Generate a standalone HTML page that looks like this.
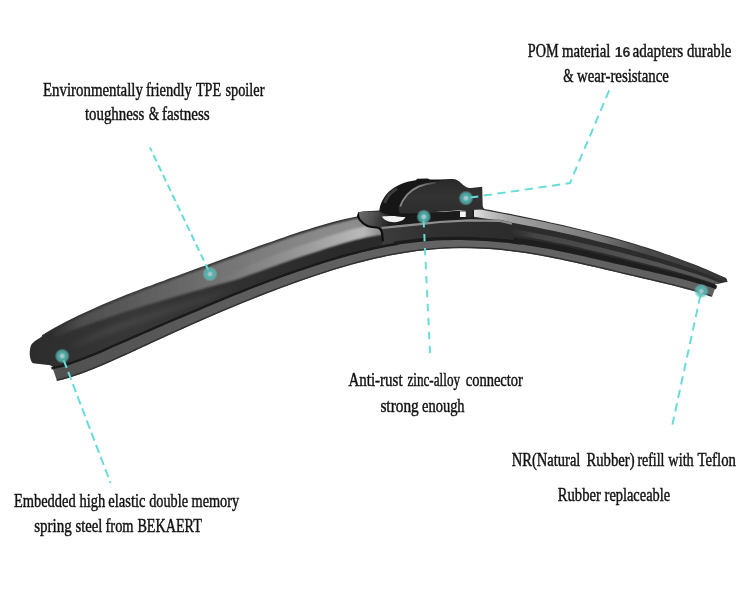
<!DOCTYPE html>
<html lang="en">
<head>
<meta charset="utf-8">
<title>Wiper blade features</title>
<style>
html,body{margin:0;padding:0;background:#fff;}
body{width:750px;height:593px;overflow:hidden;position:relative;}
svg{display:block;position:absolute;left:0;top:0;}
text{font-family:"Liberation Serif",serif;fill:#111;stroke:#111;stroke-width:0.45px;}
.num{font-family:"Liberation Sans",sans-serif;font-weight:bold;stroke-width:0;fill:#2a2a2a;}
</style>
</head>
<body>
<svg width="750" height="593" viewBox="0 0 750 593">
<defs>
<linearGradient id="gBody" gradientUnits="userSpaceOnUse" x1="30" y1="0" x2="730" y2="0">
<stop offset="0" stop-color="#2c2c2c"/><stop offset="0.15" stop-color="#383838"/><stop offset="0.3" stop-color="#303030"/><stop offset="0.45" stop-color="#2a2a2a"/><stop offset="0.7" stop-color="#2c2c2c"/><stop offset="1" stop-color="#2c2c2c"/>
</linearGradient>
<linearGradient id="gHl" gradientUnits="userSpaceOnUse" x1="50" y1="0" x2="380" y2="0">
<stop offset="0" stop-color="#444" stop-opacity="0"/><stop offset="0.1" stop-color="#4e4e4e"/><stop offset="0.38" stop-color="#666"/><stop offset="0.55" stop-color="#767676"/><stop offset="0.75" stop-color="#868686"/><stop offset="0.92" stop-color="#8e8e8e"/><stop offset="1" stop-color="#7a7a7a"/>
</linearGradient>
<linearGradient id="gHr" gradientUnits="userSpaceOnUse" x1="215" y1="0" x2="380" y2="0">
<stop offset="0" stop-color="#8a8a8a" stop-opacity="0"/><stop offset="0.3" stop-color="#909090" stop-opacity="0.5"/><stop offset="0.7" stop-color="#acacac" stop-opacity="0.9"/><stop offset="0.9" stop-color="#bababa"/><stop offset="1" stop-color="#909090"/>
</linearGradient>
<linearGradient id="gLb" gradientUnits="userSpaceOnUse" x1="60" y1="0" x2="240" y2="0">
<stop offset="0" stop-color="#4a4a4a" stop-opacity="0"/><stop offset="0.3" stop-color="#4a4a4a" stop-opacity="0.8"/><stop offset="0.8" stop-color="#444" stop-opacity="0.6"/><stop offset="1" stop-color="#444" stop-opacity="0"/>
</linearGradient>
<linearGradient id="gRs" gradientUnits="userSpaceOnUse" x1="474" y1="0" x2="726" y2="0">
<stop offset="0" stop-color="#e2e2e2"/><stop offset="0.05" stop-color="#c6c6c6"/><stop offset="0.14" stop-color="#a4a4a4"/><stop offset="0.3" stop-color="#8e8e8e"/><stop offset="0.5" stop-color="#777"/><stop offset="0.66" stop-color="#4c4c4c"/><stop offset="1" stop-color="#333"/>
</linearGradient>
<linearGradient id="gRm" gradientUnits="userSpaceOnUse" x1="508" y1="0" x2="722" y2="0">
<stop offset="0" stop-color="#3a3a3a" stop-opacity="0"/><stop offset="0.12" stop-color="#444"/><stop offset="0.6" stop-color="#525252"/><stop offset="1" stop-color="#5a5a5a"/>
</linearGradient>
<linearGradient id="gStrip" gradientUnits="userSpaceOnUse" x1="57" y1="0" x2="712" y2="0">
<stop offset="0" stop-color="#505050"/><stop offset="0.25" stop-color="#5c5c5c"/><stop offset="0.6" stop-color="#646464"/><stop offset="1" stop-color="#606060"/>
</linearGradient>
<linearGradient id="gCapTop" gradientUnits="userSpaceOnUse" x1="358" y1="212" x2="400" y2="226">
<stop offset="0" stop-color="#6c6c6c"/><stop offset="0.35" stop-color="#505050"/><stop offset="0.75" stop-color="#222"/><stop offset="1" stop-color="#1a1a1a"/>
</linearGradient>
<linearGradient id="gCapFront" gradientUnits="userSpaceOnUse" x1="382" y1="0" x2="512" y2="0">
<stop offset="0" stop-color="#3c3c3c"/><stop offset="0.4" stop-color="#303030"/><stop offset="1" stop-color="#2c2c2c"/>
</linearGradient>
<linearGradient id="gLoz" gradientUnits="userSpaceOnUse" x1="0" y1="180" x2="0" y2="214">
<stop offset="0" stop-color="#2a2a2a"/><stop offset="0.5" stop-color="#333"/><stop offset="1" stop-color="#2c2c2c"/>
</linearGradient>
<linearGradient id="gLozHl" gradientUnits="userSpaceOnUse" x1="400" y1="0" x2="436" y2="0">
<stop offset="0" stop-color="#8a8a8a"/><stop offset="0.5" stop-color="#8a8a8a"/><stop offset="1" stop-color="#444"/>
</linearGradient>
<radialGradient id="gDot"><stop offset="0" stop-color="#b4c0c8"/><stop offset="0.22" stop-color="#a4c4c8"/><stop offset="0.4" stop-color="#4cbcb6" stop-opacity="0.9"/><stop offset="0.7" stop-color="#58c4be" stop-opacity="0.7"/><stop offset="1" stop-color="#7fd4d0" stop-opacity="0"/></radialGradient>
<filter id="b0" x="-10%" y="-30%" width="120%" height="160%"><feGaussianBlur stdDeviation="0.45"/></filter>
<filter id="b1" x="-5%" y="-20%" width="110%" height="140%"><feGaussianBlur stdDeviation="0.7"/></filter>
<filter id="b2" x="-5%" y="-20%" width="110%" height="140%"><feGaussianBlur stdDeviation="1.3"/></filter>
<filter id="b3" x="-5%" y="-20%" width="110%" height="140%"><feGaussianBlur stdDeviation="2.5"/></filter>
<clipPath id="cBody"><path d="M42.0 335.2 L48.1 331.6 L54.1 328.1 L60.2 324.8 L66.2 321.6 L72.3 318.5 L78.3 315.5 L84.4 312.7 L90.5 309.9 L96.5 307.2 L102.6 304.6 L108.6 302.0 L114.7 299.5 L120.8 297.0 L126.8 294.6 L132.9 292.3 L138.9 289.9 L145.0 287.6 L151.0 285.4 L157.1 283.1 L163.2 280.9 L169.2 278.6 L175.3 276.4 L181.3 274.2 L187.4 272.0 L193.4 269.8 L199.5 267.6 L205.6 265.4 L211.6 263.2 L217.7 261.0 L223.7 258.8 L229.8 256.6 L235.8 254.4 L241.9 252.2 L248.0 250.0 L254.0 247.8 L260.1 245.6 L266.1 243.5 L272.2 241.4 L278.2 239.2 L284.3 237.2 L290.4 235.1 L296.4 233.1 L302.5 231.1 L308.5 229.2 L314.6 227.3 L320.7 225.5 L326.7 223.8 L332.8 222.1 L338.8 220.5 L344.9 219.1 L350.9 217.7 L357.0 216.4 L358.2 212.6 L362 211.6 L379 210.6 L400 212 L440 212 L470 210 L484.0 208.9 L490.1 210.1 L496.1 211.2 L502.1 212.4 L508.2 213.6 L514.2 214.8 L520.3 216.1 L526.4 217.3 L532.4 218.5 L538.5 219.8 L544.5 221.1 L550.5 222.4 L556.6 223.8 L562.6 225.1 L568.7 226.5 L574.8 227.9 L580.8 229.4 L586.9 230.8 L592.9 232.4 L599.0 233.9 L605.0 235.5 L611.0 237.1 L617.1 238.8 L623.1 240.5 L629.2 242.3 L635.2 244.1 L641.3 245.9 L647.4 247.8 L653.4 249.8 L659.5 251.8 L665.5 253.9 L671.5 256.0 L677.6 258.2 L683.6 260.4 L689.7 262.8 L695.8 265.1 L701.8 267.6 L707.9 270.1 L713.9 272.7 L720.0 275.4 L726.0 278.1 L727.7 281.8 L715.4 284.2 L715.1 288.3 L708.9 286.1 L702.7 284.2 L696.5 282.4 L690.4 280.7 L684.2 279.1 L678.1 277.6 L672.1 276.1 L666.0 274.7 L660.0 273.2 L653.9 271.9 L647.9 270.5 L641.9 269.1 L635.9 267.7 L629.9 266.3 L623.9 265.0 L617.8 263.6 L611.8 262.2 L605.8 260.8 L599.8 259.4 L593.8 258.0 L587.7 256.6 L581.7 255.3 L575.6 253.9 L569.6 252.6 L563.5 251.3 L557.5 250.1 L551.4 248.9 L545.3 247.7 L539.2 246.6 L533.1 245.6 L527.0 244.6 L520.9 243.7 L514.8 242.9 L508.7 242.2 L502.5 241.5 L496.4 241.0 L490.3 240.5 L484.1 240.1 L478.0 239.8 L471.8 239.6 L465.7 239.3 L459.5 239.2 L453.4 239.2 L447.2 239.3 L441.0 239.5 L434.8 239.8 L428.7 240.2 L422.5 240.7 L416.3 241.3 L410.1 242.0 L404.0 242.8 L397.8 243.7 L391.6 244.8 L385.5 245.9 L379.3 247.2 L373.2 248.5 L367.0 249.9 L360.9 251.4 L354.8 253.0 L348.6 254.6 L342.5 256.3 L336.4 258.0 L330.3 259.9 L324.2 261.7 L318.1 263.7 L312.0 265.6 L305.9 267.7 L299.8 269.7 L293.7 271.8 L287.7 274.0 L281.6 276.2 L275.5 278.4 L269.4 280.7 L263.4 283.0 L257.3 285.3 L251.2 287.6 L245.1 290.0 L239.1 292.4 L233.0 294.9 L227.0 297.4 L220.9 299.8 L214.8 302.4 L208.8 304.9 L202.7 307.5 L196.7 310.1 L190.6 312.6 L184.5 315.2 L178.3 317.8 L172.2 320.3 L166.1 322.9 L160.0 325.6 L154.0 328.2 L147.9 330.8 L141.8 333.5 L135.7 336.1 L129.7 338.7 L123.6 341.3 L117.6 344.0 L111.7 346.7 L105.7 349.3 L99.8 351.9 L93.9 354.4 L88.1 356.7 L82.3 359.0 L76.5 361.2 L70.8 363.1 L65.2 364.9 L59.6 366.5 L54.1 367.8 L50.3 365.2 L33 363.3 C31.8 362.6 31 361 30.4 358.5 C29.3 355 29.5 348.5 31.2 345 C33 341.8 38 339.4 42 336.3 Z"/></clipPath>
</defs>
<!-- blade body -->
<path d="M42.0 335.2 L48.1 331.6 L54.1 328.1 L60.2 324.8 L66.2 321.6 L72.3 318.5 L78.3 315.5 L84.4 312.7 L90.5 309.9 L96.5 307.2 L102.6 304.6 L108.6 302.0 L114.7 299.5 L120.8 297.0 L126.8 294.6 L132.9 292.3 L138.9 289.9 L145.0 287.6 L151.0 285.4 L157.1 283.1 L163.2 280.9 L169.2 278.6 L175.3 276.4 L181.3 274.2 L187.4 272.0 L193.4 269.8 L199.5 267.6 L205.6 265.4 L211.6 263.2 L217.7 261.0 L223.7 258.8 L229.8 256.6 L235.8 254.4 L241.9 252.2 L248.0 250.0 L254.0 247.8 L260.1 245.6 L266.1 243.5 L272.2 241.4 L278.2 239.2 L284.3 237.2 L290.4 235.1 L296.4 233.1 L302.5 231.1 L308.5 229.2 L314.6 227.3 L320.7 225.5 L326.7 223.8 L332.8 222.1 L338.8 220.5 L344.9 219.1 L350.9 217.7 L357.0 216.4 L358.2 212.6 L362 211.6 L379 210.6 L400 212 L440 212 L470 210 L484.0 208.9 L490.1 210.1 L496.1 211.2 L502.1 212.4 L508.2 213.6 L514.2 214.8 L520.3 216.1 L526.4 217.3 L532.4 218.5 L538.5 219.8 L544.5 221.1 L550.5 222.4 L556.6 223.8 L562.6 225.1 L568.7 226.5 L574.8 227.9 L580.8 229.4 L586.9 230.8 L592.9 232.4 L599.0 233.9 L605.0 235.5 L611.0 237.1 L617.1 238.8 L623.1 240.5 L629.2 242.3 L635.2 244.1 L641.3 245.9 L647.4 247.8 L653.4 249.8 L659.5 251.8 L665.5 253.9 L671.5 256.0 L677.6 258.2 L683.6 260.4 L689.7 262.8 L695.8 265.1 L701.8 267.6 L707.9 270.1 L713.9 272.7 L720.0 275.4 L726.0 278.1 L727.7 281.8 L715.4 284.2 L715.1 288.3 L708.9 286.1 L702.7 284.2 L696.5 282.4 L690.4 280.7 L684.2 279.1 L678.1 277.6 L672.1 276.1 L666.0 274.7 L660.0 273.2 L653.9 271.9 L647.9 270.5 L641.9 269.1 L635.9 267.7 L629.9 266.3 L623.9 265.0 L617.8 263.6 L611.8 262.2 L605.8 260.8 L599.8 259.4 L593.8 258.0 L587.7 256.6 L581.7 255.3 L575.6 253.9 L569.6 252.6 L563.5 251.3 L557.5 250.1 L551.4 248.9 L545.3 247.7 L539.2 246.6 L533.1 245.6 L527.0 244.6 L520.9 243.7 L514.8 242.9 L508.7 242.2 L502.5 241.5 L496.4 241.0 L490.3 240.5 L484.1 240.1 L478.0 239.8 L471.8 239.6 L465.7 239.3 L459.5 239.2 L453.4 239.2 L447.2 239.3 L441.0 239.5 L434.8 239.8 L428.7 240.2 L422.5 240.7 L416.3 241.3 L410.1 242.0 L404.0 242.8 L397.8 243.7 L391.6 244.8 L385.5 245.9 L379.3 247.2 L373.2 248.5 L367.0 249.9 L360.9 251.4 L354.8 253.0 L348.6 254.6 L342.5 256.3 L336.4 258.0 L330.3 259.9 L324.2 261.7 L318.1 263.7 L312.0 265.6 L305.9 267.7 L299.8 269.7 L293.7 271.8 L287.7 274.0 L281.6 276.2 L275.5 278.4 L269.4 280.7 L263.4 283.0 L257.3 285.3 L251.2 287.6 L245.1 290.0 L239.1 292.4 L233.0 294.9 L227.0 297.4 L220.9 299.8 L214.8 302.4 L208.8 304.9 L202.7 307.5 L196.7 310.1 L190.6 312.6 L184.5 315.2 L178.3 317.8 L172.2 320.3 L166.1 322.9 L160.0 325.6 L154.0 328.2 L147.9 330.8 L141.8 333.5 L135.7 336.1 L129.7 338.7 L123.6 341.3 L117.6 344.0 L111.7 346.7 L105.7 349.3 L99.8 351.9 L93.9 354.4 L88.1 356.7 L82.3 359.0 L76.5 361.2 L70.8 363.1 L65.2 364.9 L59.6 366.5 L54.1 367.8 L50.3 365.2 L33 363.3 C31.8 362.6 31 361 30.4 358.5 C29.3 355 29.5 348.5 31.2 345 C33 341.8 38 339.4 42 336.3 Z" fill="url(#gBody)"/>
<g clip-path="url(#cBody)">
<path d="M51.0 332.2 L57.0 328.8 L62.9 325.6 L68.9 322.5 L74.9 319.4 L80.9 316.5 L86.8 313.7 L92.8 311.0 L98.8 308.4 L104.8 305.8 L110.8 303.3 L116.8 300.8 L122.7 298.4 L128.7 296.0 L134.7 293.7 L140.7 291.4 L146.7 289.1 L152.7 286.9 L158.7 284.6 L164.7 282.4 L170.7 280.2 L176.7 278.0 L182.7 275.8 L188.7 273.6 L194.7 271.5 L200.7 269.3 L206.7 267.1 L212.7 264.9 L218.7 262.7 L224.7 260.6 L230.7 258.4 L236.7 256.2 L242.7 254.0 L248.7 251.9 L254.7 249.7 L260.7 247.6 L266.7 245.4 L272.7 243.3 L278.7 241.2 L284.6 239.2 L290.6 237.1 L296.6 235.1 L302.6 233.2 L308.6 231.3 L314.6 229.4 L320.6 227.6 L326.5 225.9 L332.5 224.2 L338.5 222.7 L344.5 221.2 L350.4 219.8 L356.4 218.6 L362.4 217.4 L368.3 216.4 L374.3 215.6 L380.2 214.8 L382.3 234.2 L376.9 235.1 L371.4 236.0 L365.9 237.1 L360.4 238.4 L354.8 239.7 L349.2 241.2 L343.6 242.7 L337.9 244.4 L332.3 246.1 L326.5 248.0 L320.8 249.9 L315.1 251.8 L309.2 253.7 L303.4 255.6 L297.5 257.6 L291.7 259.6 L285.8 261.7 L279.9 263.8 L273.9 265.9 L268.0 268.1 L262.1 270.3 L256.1 272.4 L250.1 274.6 L244.2 276.8 L238.2 279.1 L232.0 280.8 L225.9 282.5 L219.7 284.2 L213.5 285.9 L207.4 287.6 L201.2 289.4 L195.0 291.1 L188.9 292.8 L182.7 294.5 L176.6 296.3 L170.5 298.1 L164.3 299.9 L158.2 301.7 L152.1 303.5 L146.0 305.3 L139.9 307.2 L133.9 309.1 L127.8 311.0 L121.7 313.0 L115.7 315.0 L109.6 317.1 L103.5 319.2 L97.4 321.2 L91.3 323.4 L85.2 325.6 L79.1 327.9 L72.9 330.3 L66.8 332.8 L60.6 335.5 L54.5 338.2 Z" fill="url(#gHl)" filter="url(#b2)"/>
<path d="M220.7 277.7 L226.6 275.5 L232.5 273.3 L238.3 270.9 L244.0 268.3 L249.7 265.6 L255.3 263.0 L261.0 260.4 L266.8 257.9 L272.6 255.7 L278.4 253.6 L284.2 251.5 L290.0 249.4 L295.8 247.3 L301.6 245.3 L307.4 243.4 L313.2 241.4 L318.9 239.5 L324.6 237.5 L330.3 235.7 L336.0 233.9 L341.7 232.2 L347.4 230.6 L353.0 229.1 L358.7 227.7 L364.3 226.4 L369.9 225.2 L375.5 224.2 L381.1 223.3 L382.3 234.2 L377.0 235.0 L371.6 236.0 L366.2 237.1 L360.8 238.3 L355.3 239.6 L349.8 241.0 L344.3 242.5 L338.7 244.2 L333.2 245.9 L327.6 247.6 L321.9 249.5 L316.3 251.4 L310.6 253.2 L304.9 255.1 L299.1 257.1 L293.3 259.1 L287.6 261.1 L281.8 263.1 L275.9 265.2 L270.1 267.3 L264.3 269.5 L258.4 271.6 L252.6 273.7 L246.7 275.9 L240.9 278.1 L234.9 280.0 L228.8 281.7 L222.8 283.3 Z" fill="url(#gHr)" filter="url(#b2)"/>
<path d="M70.4 344.2 L76.3 341.5 L82.1 338.8 L87.9 336.2 L93.8 333.7 L99.6 331.3 L105.5 329.0 L111.4 326.7 L117.3 324.5 L123.2 322.4 L129.2 320.2 L135.1 318.1 L141.1 316.1 L147.1 314.1 L153.1 312.1 L159.1 310.1 L165.2 308.1 L171.2 306.2 L177.2 304.2 L183.3 302.3 L189.4 300.4 L195.4 298.4 L201.5 296.5 L207.6 294.6 L213.7 292.6 L219.8 290.7 L225.9 288.8 L232.0 286.8 L238.1 284.9 L244.1 283.0 L250.2 281.1 L252.3 286.7 L246.2 288.6 L240.1 290.6 L234.0 292.5 L227.9 294.4 L221.8 296.3 L215.8 298.3 L209.7 300.2 L203.6 302.1 L197.5 304.1 L191.4 306.0 L185.4 307.9 L179.3 309.9 L173.3 311.8 L167.2 313.8 L161.2 315.7 L155.2 317.7 L149.3 319.7 L143.3 321.7 L137.4 323.7 L131.4 325.8 L125.5 327.9 L119.6 330.1 L113.8 332.2 L107.9 334.5 L102.1 336.8 L96.3 339.2 L90.5 341.6 L84.8 344.2 L79.0 346.8 L73.3 349.5 Z" fill="url(#gLb)" filter="url(#b3)"/>
<path d="M508.0 228.4 L515.9 229.7 L523.9 231.0 L531.8 232.4 L539.7 233.9 L547.6 235.5 L555.6 237.1 L563.5 238.8 L571.4 240.6 L579.3 242.4 L587.3 244.3 L595.2 246.2 L603.1 248.1 L611.0 250.1 L619.0 252.1 L626.9 254.1 L634.8 256.2 L642.7 258.3 L650.7 260.4 L658.6 262.6 L666.5 264.9 L674.4 267.2 L682.4 269.7 L690.3 272.2 L698.2 274.8 L706.1 277.6 L714.1 280.6 L722.0 283.8 L722.0 286.7 L714.1 283.6 L706.1 280.8 L698.2 278.2 L690.3 275.7 L682.4 273.4 L674.4 271.2 L666.5 269.0 L658.6 266.9 L650.7 264.9 L642.7 262.9 L634.8 260.9 L626.9 258.9 L619.0 257.0 L611.0 255.0 L603.1 253.1 L595.2 251.2 L587.3 249.4 L579.3 247.5 L571.4 245.8 L563.5 244.0 L555.6 242.4 L547.6 240.8 L539.7 239.3 L531.8 237.8 L523.9 236.5 L515.9 235.3 L508.0 234.1 Z" fill="url(#gRm)" filter="url(#b1)"/>
<path d="M474.0 208.3 L481.9 209.7 L489.8 211.2 L497.7 212.7 L505.6 214.3 L513.5 215.8 L521.4 217.4 L529.3 219.0 L537.2 220.6 L545.2 222.3 L553.1 224.0 L561.0 225.8 L568.9 227.6 L576.8 229.4 L584.7 231.3 L592.6 233.3 L600.5 235.3 L608.4 237.4 L616.3 239.6 L624.2 241.8 L632.1 244.1 L640.0 246.5 L647.9 248.9 L655.8 251.5 L663.8 254.1 L671.7 256.8 L679.6 259.7 L687.5 262.6 L695.4 265.7 L703.3 268.8 L711.2 272.1 L719.1 275.6 L727.0 279.1 L727.0 282.8 L719.1 279.4 L711.2 276.1 L703.3 273.0 L695.4 270.1 L687.5 267.3 L679.6 264.6 L671.7 262.0 L663.8 259.5 L655.8 257.1 L647.9 254.8 L640.0 252.5 L632.1 250.2 L624.2 248.1 L616.3 246.0 L608.4 243.9 L600.5 241.9 L592.6 239.9 L584.7 238.0 L576.8 236.1 L568.9 234.3 L561.0 232.6 L553.1 230.8 L545.2 229.2 L537.2 227.6 L529.3 226.0 L521.4 224.6 L513.5 223.1 L505.6 221.7 L497.7 220.4 L489.8 219.2 L481.9 217.9 L474.0 216.8 Z" fill="url(#gRs)" filter="url(#b1)"/>
<path d="M357.9 212.7 L362 211.7 L379 211.4 L400 213 L440 212.4 L474 210 L474 219.1 L470 219.2 L440 220.8 L420 223 L400 225 L381.7 226.8 L378 227.8 C375 227 371.5 227.5 367.5 225.9 C364 224.4 361.8 222.4 359.6 219.6 C358.3 218 357.6 216 357.9 212.7 Z" fill="url(#gCapTop)"/>
<path d="M381.7 226.8 L400.0 225.0 L420.0 223.0 L440.0 220.8 L470.0 219.2 L500.0 219.8 L512.0 222.4 L512 242.1 L513.1 242.2 L506.9 241.5 L500.7 240.8 L494.4 240.3 L488.2 239.8 L482.0 239.5 L475.7 239.2 L469.5 239.0 L463.2 238.8 L457.0 238.7 L450.7 238.7 L444.5 238.9 L438.2 239.1 L431.9 239.5 L425.6 239.9 L419.4 240.5 L413.1 241.2 L406.8 241.9 L400.5 242.8 L394.3 243.8 L388.0 244.9 L381.8 246.2 L382.8 240.5 L382 232.6 C381.6 230.4 380.6 228.6 378 227.8 Z" fill="url(#gCapFront)"/>
<path d="M381.7 228.0 L400.0 226.2 L420.0 224.2 L440.0 222.0 L470.0 220.4 L500.0 221.0 L512.0 223.6" fill="none" stroke="#8e8e8e" stroke-width="2.2" filter="url(#b1)"/>
<path d="M357.9 212.7 C357.6 216 358.3 218 359.6 219.6 C361.8 222.4 364 224.4 367.5 225.9 C371.5 227.5 375 227 378 227.8 C380.6 228.6 381.6 230.4 382 232.6 L382.8 240.5" fill="none" stroke="#0e0e0e" stroke-width="2.2" stroke-linecap="round"/>
</g>
<!-- rubber strip -->
<path d="M57.0 380.8 L63.0 379.4 L69.0 377.7 L75.0 375.8 L81.0 373.7 L87.0 371.4 L93.1 369.1 L99.1 366.6 L105.1 364.1 L111.1 361.5 L117.1 358.8 L123.1 356.1 L129.1 353.3 L135.1 350.6 L141.1 347.8 L147.1 345.0 L153.1 342.3 L159.2 339.5 L165.2 336.7 L171.2 334.0 L177.2 331.2 L183.2 328.5 L189.2 325.8 L195.2 323.2 L201.2 320.5 L207.2 317.9 L213.2 315.3 L219.2 312.8 L225.3 310.2 L231.3 307.7 L237.3 305.2 L243.3 302.8 L249.3 300.3 L255.3 297.9 L261.3 295.5 L267.3 293.2 L273.3 290.9 L279.3 288.6 L285.3 286.4 L291.4 284.2 L297.4 282.0 L303.4 279.9 L309.4 277.8 L315.4 275.8 L321.4 273.8 L327.4 271.9 L333.4 270.0 L339.4 268.2 L345.4 266.4 L351.4 264.7 L357.5 263.1 L363.5 261.5 L369.5 260.0 L375.5 258.6 L381.5 257.3 L387.5 256.0 L393.5 254.8 L399.5 253.8 L405.5 252.8 L411.5 251.9 L417.6 251.1 L423.6 250.3 L429.6 249.7 L435.6 249.2 L441.6 248.8 L447.6 248.5 L453.6 248.3 L459.6 248.1 L465.6 248.1 L471.6 248.2 L477.6 248.4 L483.7 248.7 L489.7 249.1 L495.7 249.5 L501.7 250.1 L507.7 250.7 L513.7 251.5 L519.7 252.3 L525.7 253.1 L531.7 254.1 L537.7 255.1 L543.7 256.2 L549.8 257.3 L555.8 258.5 L561.8 259.8 L567.8 261.0 L573.8 262.3 L579.8 263.7 L585.8 265.0 L591.8 266.4 L597.8 267.8 L603.8 269.2 L609.8 270.6 L615.9 272.0 L621.9 273.4 L627.9 274.9 L633.9 276.3 L639.9 277.7 L645.9 279.1 L651.9 280.5 L657.9 281.9 L663.9 283.4 L669.9 284.8 L675.9 286.3 L682.0 287.9 L688.0 289.5 L694.0 291.1 L700.0 292.9 L706.0 294.8 L712.0 296.9 L715.1 288.3 L708.9 286.1 L702.7 284.2 L696.5 282.4 L690.4 280.7 L684.2 279.1 L678.1 277.6 L672.1 276.1 L666.0 274.7 L660.0 273.2 L653.9 271.9 L647.9 270.5 L641.9 269.1 L635.9 267.7 L629.9 266.3 L623.9 265.0 L617.8 263.6 L611.8 262.2 L605.8 260.8 L599.8 259.4 L593.8 258.0 L587.7 256.6 L581.7 255.3 L575.6 253.9 L569.6 252.6 L563.5 251.3 L557.5 250.1 L551.4 248.9 L545.3 247.7 L539.2 246.6 L533.1 245.6 L527.0 244.6 L520.9 243.7 L514.8 242.9 L508.7 242.2 L502.5 241.5 L496.4 241.0 L490.3 240.5 L484.1 240.1 L478.0 239.8 L471.8 239.6 L465.7 239.3 L459.5 239.2 L453.4 239.2 L447.2 239.3 L441.0 239.5 L434.8 239.8 L428.7 240.2 L422.5 240.7 L416.3 241.3 L410.1 242.0 L404.0 242.8 L397.8 243.7 L391.6 244.8 L385.5 245.9 L379.3 247.2 L373.2 248.5 L367.0 249.9 L360.9 251.4 L354.8 253.0 L348.6 254.6 L342.5 256.3 L336.4 258.0 L330.3 259.9 L324.2 261.7 L318.1 263.7 L312.0 265.6 L305.9 267.7 L299.8 269.7 L293.7 271.8 L287.7 274.0 L281.6 276.2 L275.5 278.4 L269.4 280.7 L263.4 283.0 L257.3 285.3 L251.2 287.6 L245.1 290.0 L239.1 292.4 L233.0 294.9 L227.0 297.4 L220.9 299.8 L214.8 302.4 L208.8 304.9 L202.7 307.5 L196.7 310.1 L190.6 312.6 L184.5 315.2 L178.3 317.8 L172.2 320.3 L166.1 322.9 L160.0 325.6 L154.0 328.2 L147.9 330.8 L141.8 333.5 L135.7 336.1 L129.7 338.7 L123.6 341.3 L117.6 344.0 L111.7 346.7 L105.7 349.3 L99.8 351.9 L93.9 354.4 L88.1 356.7 L82.3 359.0 L76.5 361.2 L70.8 363.1 L65.2 364.9 L59.6 366.5 L54.1 367.8 L52.9 369 Z" fill="url(#gStrip)"/>
<path d="M51.4 368.4 L56.8 367.2 L62.3 365.8 L67.9 364.1 L73.5 362.2 L79.2 360.2 L84.9 358.0 L90.7 355.7 L96.5 353.3 L102.4 350.8 L108.3 348.2 L114.2 345.5 L120.1 342.9 L126.1 340.3 L132.1 337.7 L138.1 335.1 L144.1 332.5 L150.2 329.8 L156.2 327.2 L162.3 324.6 L168.3 322.0 L174.4 319.4 L180.4 316.9 L186.5 314.3 L192.5 311.8 L198.6 309.3 L204.6 306.7 L210.6 304.1 L216.6 301.6 L222.7 299.1 L228.7 296.6 L234.7 294.2 L240.7 291.8 L246.7 289.4 L252.8 287.0 L258.8 284.7 L264.8 282.4 L270.8 280.1 L276.9 277.9 L282.9 275.7 L288.9 273.5 L295.0 271.4 L301.0 269.3 L307.1 267.3 L313.1 265.3 L319.2 263.3 L325.2 261.4 L331.3 259.6 L337.3 257.8 L343.4 256.0 L349.5 254.4 L355.6 252.8 L361.7 251.2 L367.7 249.8 L373.8 248.4 L379.9 247.1 L386.0 245.8 L392.2 244.7 L398.3 243.6" fill="none" stroke="#1a1a1a" stroke-width="2.4"/>
<path d="M394.0 243.5 L400.1 242.5 L406.2 241.7 L412.3 241.0 L418.3 240.3 L424.4 239.7 L430.5 239.3 L436.6 238.9 L442.7 238.6 L448.7 238.5 L454.8 238.4 L460.9 238.4 L466.9 238.6 L473.0 238.8 L479.1 239.1 L485.1 239.4 L491.2 239.7 L497.2 240.2 L503.2 240.8 L509.3 241.4 L515.3 242.2 L521.3 243.0" fill="none" stroke="#1c1c1c" stroke-width="3.4"/>
<path d="M513.7 237.5 L519.8 238.4 L525.9 239.2 L531.9 240.2 L538.0 241.2 L544.0 242.3 L550.0 243.4 L556.1 244.6 L562.1 245.8 L568.0 247.1 L574.0 248.4 L580.0 249.7 L586.0 251.1 L591.9 252.4 L597.8 253.8 L603.8 255.2 L609.7 256.7 L615.6 258.2 L621.5 259.6 L627.4 261.1 L633.3 262.5 L639.1 264.0 L645.0 265.4 L650.9 266.9 L656.9 268.4 L662.8 269.9 L668.7 271.4 L674.7 272.9 L680.6 274.5 L686.7 276.1 L692.7 277.8 L698.7 279.6 L704.9 281.5 L711.0 283.6 L717.2 285.8 L715.9 289.2 L709.8 287.1 L703.7 285.1 L697.7 283.4 L691.6 281.7 L685.6 280.1 L679.6 278.6 L673.6 277.1 L667.7 275.7 L661.7 274.3 L655.8 272.9 L649.9 271.5 L643.9 270.2 L638.0 268.8 L632.1 267.5 L626.2 266.1 L620.3 264.7 L614.3 263.4 L608.4 262.0 L602.5 260.7 L596.6 259.3 L590.6 257.9 L584.7 256.6 L578.8 255.2 L572.8 253.9 L566.9 252.7 L560.9 251.4 L554.9 250.2 L549.0 249.0 L543.0 247.9 L537.0 246.9 L531.0 245.9 L525.0 244.9 L519.0 244.1 L513.0 243.3 Z" fill="#1e1e1e"/>
<path d="M56.8 380.2 L62.8 378.7 L68.8 377.0 L74.8 375.1 L80.8 373.0 L86.7 370.8 L92.7 368.5 L98.7 366.0 L104.7 363.5 L110.7 360.9 L116.7 358.2 L122.7 355.5 L128.7 352.8 L134.7 350.0 L140.7 347.2 L146.7 344.5 L152.7 341.7 L158.7 338.9 L164.7 336.2 L170.7 333.4 L176.7 330.7 L182.7 328.0 L188.7 325.3 L194.7 322.6 L200.7 320.0 L206.7 317.4 L212.7 314.8 L218.7 312.2 L224.7 309.7 L230.7 307.2 L236.7 304.7 L242.7 302.2 L248.7 299.8 L254.7 297.4 L260.7 295.0 L266.7 292.7 L272.8 290.4 L278.8 288.1 L284.8 285.9 L290.8 283.7 L296.8 281.5 L302.8 279.4 L308.8 277.3 L314.8 275.3 L320.8 273.3 L326.8 271.3 L332.8 269.4 L338.8 267.6 L344.8 265.9 L350.8 264.2 L356.8 262.5 L362.8 261.0 L368.8 259.5 L374.8 258.0 L380.9 256.7 L386.9 255.4 L392.9 254.3 L398.9 253.2 L404.9 252.2 L410.9 251.2 L416.9 250.4 L422.9 249.7 L428.9 249.1 L434.9 248.6 L441.0 248.1 L447.0 247.8 L453.0 247.6 L459.0 247.5 L465.0 247.4 L471.0 247.5 L477.0 247.7 L483.0 248.0 L489.0 248.3 L495.1 248.8 L501.1 249.3 L507.1 250.0 L513.1 250.7 L519.1 251.5 L525.1 252.3 L531.1 253.3 L537.1 254.3 L543.1 255.4 L549.1 256.5 L555.1 257.7 L561.1 258.9 L567.1 260.2 L573.2 261.5 L579.2 262.8 L585.2 264.2 L591.2 265.5 L597.2 266.9 L603.2 268.3 L609.2 269.7 L615.2 271.1 L621.2 272.6 L627.2 274.0 L633.2 275.4 L639.2 276.8 L645.2 278.2 L651.2 279.6 L657.2 281.0 L663.2 282.4 L669.2 283.9 L675.2 285.4 L681.2 286.9 L687.2 288.5 L693.2 290.2 L699.2 292.0 L705.2 293.9 L711.2 295.9" fill="none" stroke="#303030" stroke-width="1.4"/>
<!-- adapter -->
<path d="M382 216.6 C388 215.6 399 215.8 405.4 216.8 C404.6 219.6 401 222 394.5 222.2 C388 222.3 383.6 220.2 382 216.6 Z" fill="#f2f2f2" filter="url(#b0)"/>
<path d="M379.2 211.6 C379.8 206 381.2 202.6 383 199.6 C385 196 386.6 194 389 191.6 C392.4 188.4 396 186.2 400 184.4 C405 182.2 410 181 415.6 180.2 L417.6 178.8 L427.4 178.5 L430 179.6 L440 179.4 L452 178.9 L452 196 L420 214 L406 217 C398 217.4 388 215.6 379.2 211.6 Z" fill="#161616"/>
<path d="M384.6 203 C386.6 197 391 192 397 188.6" fill="none" stroke="#3a3a3a" stroke-width="3" filter="url(#b1)"/>
<path d="M398.8 207.4 C399.6 203.4 402.6 198 406 194 C409.6 189.8 413.4 187.2 418 185.4 C423.6 183.2 429.6 182 436 181.4 L452 178.9 C456 178.7 458.6 180.6 461 183 C464 186 467 188.2 471 188 L482.2 186.7 L482.7 205.4 C482.9 207.2 483.6 208.4 484.6 209 L472.6 210 L472.8 217.4 L466 217.4 L465.8 210.6 L460 210.2 L440 211.8 L410 213.6 L400.4 213.2 C398.8 211.6 398.4 209.4 398.8 207.4 Z" fill="url(#gLoz)"/>
<path d="M400.2 206.6 C401.4 202.6 404 198.4 407.2 194.8 C410.6 191 414.4 188.4 418.6 186.6 C424 184.4 430 183.2 436 182.6" fill="none" stroke="url(#gLozHl)" stroke-width="1.7" filter="url(#b0)"/>
<rect x="460" y="211.4" width="5.8" height="5.6" fill="#f4f4f4"/>
<!-- callout lines -->
<path d="M208.6 270.6 L150 147.6" fill="none" stroke="#68dcd8" stroke-width="2" stroke-dasharray="7 4"/>
<path d="M470 197.6 L570 183 L610 88.5" fill="none" stroke="#68dcd8" stroke-width="2" stroke-dasharray="8.4 5.4"/>
<path d="M423.6 220 L430 353" fill="none" stroke="#68dcd8" stroke-width="2" stroke-dasharray="7.4 6.6"/>
<path d="M700.4 295.4 L672.4 424.6" fill="none" stroke="#68dcd8" stroke-width="2" stroke-dasharray="8.4 5.4"/>
<path d="M63.6 359.8 L110.6 483" fill="none" stroke="#68dcd8" stroke-width="2" stroke-dasharray="8.6 4.4"/>
<circle cx="210.0" cy="274.0" r="7.6" fill="url(#gDot)"/>
<circle cx="62.2" cy="356.0" r="7.6" fill="url(#gDot)"/>
<circle cx="423.8" cy="216.8" r="7.6" fill="url(#gDot)"/>
<circle cx="466.0" cy="198.2" r="7.6" fill="url(#gDot)"/>
<circle cx="701.3" cy="291.2" r="7.6" fill="url(#gDot)"/>
<!-- labels -->
<g opacity="0.995">
<text y="96.0" font-size="19.5"><tspan x="43.0" textLength="99.9" lengthAdjust="spacingAndGlyphs">Environmentally</tspan> <tspan x="145.9" textLength="45.9" lengthAdjust="spacingAndGlyphs">friendly</tspan> <tspan x="195.9" textLength="25.3" lengthAdjust="spacingAndGlyphs">TPE</tspan> <tspan x="225.5" textLength="38.9" lengthAdjust="spacingAndGlyphs">spoiler</tspan></text>
<text y="120.0" font-size="19.5"><tspan x="84.9" textLength="59.5" lengthAdjust="spacingAndGlyphs">toughness</tspan> <tspan x="148.8" textLength="10.4" lengthAdjust="spacingAndGlyphs">&amp;</tspan> <tspan x="161.9" textLength="47.8" lengthAdjust="spacingAndGlyphs">fastness</tspan></text>
<text y="56.7" font-size="19.5"><tspan x="527.8" textLength="30.8" lengthAdjust="spacingAndGlyphs">POM</tspan> <tspan x="561.9" textLength="48.5" lengthAdjust="spacingAndGlyphs">material</tspan> <tspan class="num" font-size="14.4" x="614.7" textLength="15.7" lengthAdjust="spacingAndGlyphs">16</tspan> <tspan x="632.5" textLength="50.6" lengthAdjust="spacingAndGlyphs">adapters</tspan> <tspan x="686.9" textLength="44.5" lengthAdjust="spacingAndGlyphs">durable</tspan></text>
<text y="81.5" font-size="19.5"><tspan x="563.2" textLength="10.3" lengthAdjust="spacingAndGlyphs">&amp;</tspan> <tspan x="577.0" textLength="91.8" lengthAdjust="spacingAndGlyphs">wear-resistance</tspan></text>
<text y="386.4" font-size="19.5"><tspan x="348.4" textLength="54.2" lengthAdjust="spacingAndGlyphs">Anti-rust</tspan> <tspan x="407.4" textLength="52.7" lengthAdjust="spacingAndGlyphs">zinc-alloy</tspan> <tspan x="465.7" textLength="57.2" lengthAdjust="spacingAndGlyphs">connector</tspan></text>
<text y="411.5" font-size="19.5"><tspan x="380.4" textLength="38.4" lengthAdjust="spacingAndGlyphs">strong</tspan> <tspan x="422.0" textLength="42.6" lengthAdjust="spacingAndGlyphs">enough</tspan></text>
<text y="465.7" font-size="19.5"><tspan x="511.7" textLength="68.7" lengthAdjust="spacingAndGlyphs">NR(Natural</tspan> <tspan x="586.4" textLength="48.2" lengthAdjust="spacingAndGlyphs">Rubber)</tspan> <tspan x="637.4" textLength="27.1" lengthAdjust="spacingAndGlyphs">refill</tspan> <tspan x="668.3" textLength="25.5" lengthAdjust="spacingAndGlyphs">with</tspan> <tspan x="697.6" textLength="38.3" lengthAdjust="spacingAndGlyphs">Teflon</tspan></text>
<text y="500.7" font-size="19.5"><tspan x="557.8" textLength="43.0" lengthAdjust="spacingAndGlyphs">Rubber</tspan> <tspan x="604.6" textLength="65.5" lengthAdjust="spacingAndGlyphs">replaceable</tspan></text>
<text y="506.8" font-size="19.5"><tspan x="13.9" textLength="61.8" lengthAdjust="spacingAndGlyphs">Embedded</tspan> <tspan x="79.5" textLength="25.8" lengthAdjust="spacingAndGlyphs">high</tspan> <tspan x="108.3" textLength="37.2" lengthAdjust="spacingAndGlyphs">elastic</tspan> <tspan x="149.2" textLength="38.8" lengthAdjust="spacingAndGlyphs">double</tspan> <tspan x="191.5" textLength="47.7" lengthAdjust="spacingAndGlyphs">memory</tspan></text>
<text y="531.9" font-size="19.5"><tspan x="34.2" textLength="37.5" lengthAdjust="spacingAndGlyphs">spring</tspan> <tspan x="75.5" textLength="26.9" lengthAdjust="spacingAndGlyphs">steel</tspan> <tspan x="105.5" textLength="28.1" lengthAdjust="spacingAndGlyphs">from</tspan> <tspan x="137.4" textLength="64.4" lengthAdjust="spacingAndGlyphs">BEKAERT</tspan></text>
</g>
</svg>
</body>
</html>
